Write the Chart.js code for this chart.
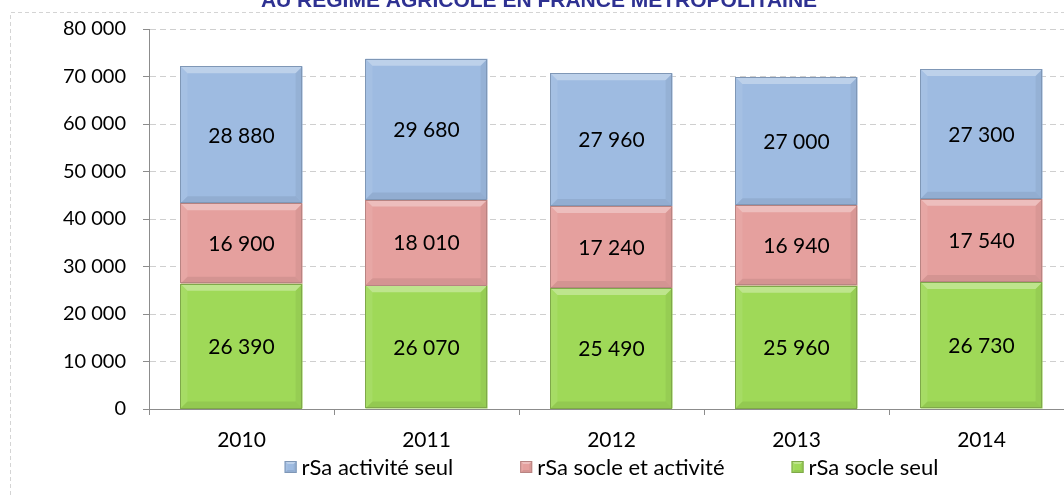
<!DOCTYPE html>
<html>
<head>
<meta charset="utf-8">
<script src="https://cdn.jsdelivr.net/npm/chart.js@4/dist/chart.umd.min.js"></script>
<style>
  html, body { margin: 0; padding: 0; background: #fff; overflow: hidden; }
  #wrap { position: relative; width: 1090px; height: 495px; }
</style>
</head>
<body>
<div id="wrap"><canvas id="chart-rsa"></canvas></div>
<script>
  // ---- donnees ----
  const annees = ['2010', '2011', '2012', '2013', '2014'];
  const socleSeul = [26390, 26070, 25490, 25960, 26730];
  const socleEtActivite = [16900, 18010, 17240, 16940, 17540];
  const activiteSeul = [28880, 29680, 27960, 27000, 27300];
  const yTicks = [0, 10000, 20000, 30000, 40000, 50000, 60000, 70000, 80000];
  const titre = 'AU RÉGIME AGRICOLE EN FRANCE MÉTROPOLITAINE';

  const police = 'Lato, "Open Sans", sans-serif';
  const fmt = v => String(v).replace(/\B(?=(\d{3})+(?!\d))/g, ' ');

  /* cadre pointille + titre coupe en haut */
  const cadre = {
    id: 'cadre',
    beforeDraw(chart) {
      const ctx = chart.ctx;
      ctx.save();
      ctx.strokeStyle = '#d4d4d4';
      ctx.lineWidth = 1;
      ctx.setLineDash([4, 3]);
      ctx.beginPath();
      ctx.moveTo(10.5, 600);
      ctx.lineTo(10.5, 12.5);
      ctx.lineTo(1100, 12.5);
      ctx.stroke();
      ctx.setLineDash([]);
      ctx.fillStyle = '#2e3192';
      ctx.font = 'bold 21px "Liberation Sans", Arial, sans-serif';
      ctx.textAlign = 'center';
      ctx.textBaseline = 'alphabetic';
      ctx.fillText(titre, 539, 7);
      ctx.restore();
    }
  };

  function bevel(ctx, l, t, r, b, s) {
    ctx.fillStyle = 'rgba(255,255,255,0.32)';
    ctx.beginPath();
    ctx.moveTo(l, t); ctx.lineTo(r, t); ctx.lineTo(r - s, t + s); ctx.lineTo(l + s, t + s);
    ctx.closePath(); ctx.fill();
    ctx.fillStyle = 'rgba(0,0,0,0.07)';
    ctx.beginPath();
    ctx.moveTo(l, b); ctx.lineTo(r, b); ctx.lineTo(r - s, b - s); ctx.lineTo(l + s, b - s);
    ctx.closePath(); ctx.fill();
    ctx.fillStyle = 'rgba(0,0,0,0.05)';
    ctx.beginPath();
    ctx.moveTo(r, t); ctx.lineTo(r, b); ctx.lineTo(r - s, b - s); ctx.lineTo(r - s, t + s);
    ctx.closePath(); ctx.fill();
    ctx.fillStyle = 'rgba(255,255,255,0.08)';
    ctx.beginPath();
    ctx.moveTo(l, t); ctx.lineTo(l, b); ctx.lineTo(l + s, b - s); ctx.lineTo(l + s, t + s);
    ctx.closePath(); ctx.fill();
  }

  /* biseau facon Excel sur chaque barre + etiquettes */
  const biseau = {
    id: 'biseau',
    afterDatasetsDraw(chart) {
      const ctx = chart.ctx;
      chart.data.datasets.forEach((ds, i) => {
        chart.getDatasetMeta(i).data.forEach((bar, j) => {
          const l = bar.x - bar.width / 2, r = bar.x + bar.width / 2;
          const t = Math.min(bar.y, bar.base), b = Math.max(bar.y, bar.base);
          ctx.save();
          bevel(ctx, l, t, r, b, 7);
          ctx.strokeStyle = ds.borderColor;
          ctx.lineWidth = 1;
          ctx.strokeRect(Math.round(l) + 0.5, Math.round(t) + 0.5, Math.round(r - l) - 1, Math.round(b - t) - 1);
          ctx.fillStyle = '#000';
          ctx.font = '21px ' + police;
          ctx.textAlign = 'center';
          ctx.textBaseline = 'middle';
          ctx.fillText(fmt(ds.data[j]), bar.x, (t + b) / 2 + 1);
          ctx.restore();
        });
      });
    }
  };

  /* legende en bas, ordre inverse des series */
  const legende = {
    id: 'legende',
    afterDraw(chart) {
      const ctx = chart.ctx;
      const area = chart.chartArea;
      const items = chart.data.datasets.slice().reverse();
      const box = 12, gap = 5, space = 67;
      ctx.save();
      ctx.font = '22px ' + police;
      const widths = items.map(ds => box + gap + ctx.measureText(ds.label).width);
      const total = widths.reduce((a, w) => a + w, 0) + space * (items.length - 1);
      let x = (area.left + area.right) / 2 - total / 2;
      const y = 467;
      items.forEach((ds, k) => {
        ctx.fillStyle = ds.backgroundColor;
        ctx.fillRect(x, y - box / 2, box, box);
        bevel(ctx, x, y - box / 2, x + box, y + box / 2, 3);
        ctx.strokeStyle = ds.borderColor;
        ctx.lineWidth = 1;
        ctx.strokeRect(x + 0.5, y - box / 2 + 0.5, box - 1, box - 1);
        ctx.fillStyle = '#000';
        ctx.textAlign = 'left';
        ctx.textBaseline = 'middle';
        ctx.fillText(ds.label, x + box + gap, y + 1);
        x += widths[k] + space;
      });
      ctx.restore();
    }
  };

  let canvasRsa = document.getElementById('chart-rsa').getContext('2d');

  let rsaChart = new Chart(canvasRsa, {
    type: 'bar',
    data: {
      labels: annees,
      datasets: [
        { label: 'rSa socle seul', data: socleSeul, backgroundColor: '#9fd958', borderColor: '#7fa84a' },
        { label: 'rSa socle et activité', data: socleEtActivite, backgroundColor: '#e5a09e', borderColor: '#b88482' },
        { label: 'rSa activité seul', data: activiteSeul, backgroundColor: '#9ebbe1', borderColor: '#7f97b6' }
      ]
    },
    options: {
      responsive: true,
      maintainAspectRatio: false,
      animation: false,
      layout: { padding: { top: 23, right: 16, left: 0, bottom: 34 } },
      datasets: { bar: { categoryPercentage: 1, barPercentage: 0.66, borderWidth: 0 } },
      plugins: {
        tooltip: { enabled: false },
        legend: { display: false }
      },
      scales: {
        x: {
          stacked: true,
          grid: { drawOnChartArea: false, drawTicks: true, tickLength: 6, tickColor: '#8c8c8c', offset: true },
          border: { color: '#8c8c8c', width: 1 },
          ticks: { color: '#000', padding: 13, font: { family: police, size: 21 } },
          afterFit: s => { s.height = 52; }
        },
        y: {
          stacked: true,
          min: 0, max: 80000,
          afterBuildTicks: s => { s.ticks = yTicks.map(v => ({ value: v })); },
          grid: { color: '#cfcfcf', tickColor: '#8c8c8c', tickLength: 6, tickBorderDash: [] },
          border: { color: '#8c8c8c', width: 1, dash: [6, 4] },
          ticks: { color: '#000', padding: 17, font: { family: police, size: 20 }, callback: v => fmt(v) },
          afterFit: s => { s.width = 149; }
        }
      }
    },
    plugins: [cadre, biseau, legende]
  });
</script>
</body>
</html>
